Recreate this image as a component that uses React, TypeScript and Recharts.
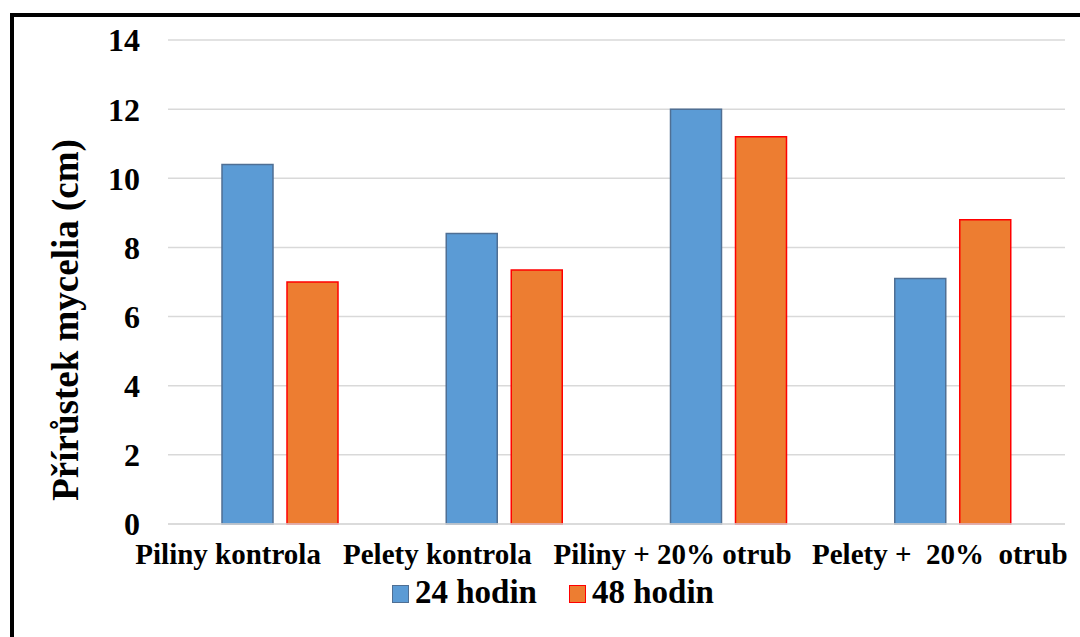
import React from 'react';
import {
  BarChart,
  Bar,
  XAxis,
  YAxis,
  CartesianGrid,
} from 'recharts';

const categories = [
  'Piliny kontrola',
  'Pelety kontrola',
  'Piliny + 20% otrub',
  'Pelety +  20%  otrub',
];
const hodin24 = [10.4, 8.4, 12.0, 7.1];
const hodin48 = [7.0, 7.35, 11.2, 8.8];
const yTicks = [0, 2, 4, 6, 8, 10, 12, 14];

const data = categories.map((name, i) => ({
  name,
  h24: hodin24[i],
  h48: hodin48[i],
}));

const FONT = '"Liberation Serif", "Times New Roman", serif';
// the original labels sit a bit left of their category centres
const labelShift = [-52, -67, -56, -13];

const XTick = (props: any) => {
  const { x, y, payload, index } = props;
  return (
    <text
      x={x + (labelShift[index] ?? 0)}
      y={y}
      dy='0.71em'
      textAnchor='middle'
      fontFamily={FONT}
      fontWeight='bold'
      fontSize={29}
      fill='#000'
      style={{ whiteSpace: 'pre' }}
    >
      {payload.value}
    </text>
  );
};

const YLabel = (props: any) => {
  const { viewBox } = props;
  const cx = viewBox.x + 65;
  const cy = viewBox.y + viewBox.height / 2 + 38;
  return (
    <text
      transform={`translate(${cx}, ${cy}) rotate(-90)`}
      textAnchor='middle'
      dominantBaseline='central'
      fontFamily={FONT}
      fontWeight='bold'
      fontSize={37}
      fill='#000'
    >
      Přírůstek mycelia (cm)
    </text>
  );
};

const legendItems = [
  { label: '24 hodin', fill: '#5B9BD5', stroke: '#4f6f94' },
  { label: '48 hodin', fill: '#ED7D31', stroke: '#FF0000' },
];

const LegendBox = () => (
  <div style={{ display: 'flex', gap: 32, alignItems: 'flex-end' }}>
    {legendItems.map((it) => (
      <div key={it.label} style={{ display: 'flex', alignItems: 'flex-end' }}>
        <span
          style={{
            display: 'inline-block',
            width: 15,
            height: 16,
            background: it.fill,
            border: `1.5px solid ${it.stroke}`,
            marginRight: 6,
            marginBottom: 6,
          }}
        />
        <span
          style={{
            fontFamily: FONT,
            fontWeight: 'bold',
            fontSize: 33,
            lineHeight: '33px',
            color: '#000',
          }}
        >
          {it.label}
        </span>
      </div>
    ))}
  </div>
);

export default function App() {
  return (
    <div
      style={{
        position: 'absolute',
        left: 0,
        top: 0,
        width: 1080,
        height: 637,
        background: '#fff',
        overflow: 'hidden',
      }}
    >
      <div
        style={{
          position: 'absolute',
          left: 10,
          top: 13,
          width: 1200,
          height: 800,
          border: '4px solid #000',
        }}
      />
      <div style={{ position: 'absolute', left: 0, top: 0 }}>
        <BarChart
          width={1080}
          height={637}
          data={data}
          margin={{ top: 40, right: 15, bottom: 83, left: 0 }}
          barGap={14}
          barSize={51}
        >
          <CartesianGrid vertical={false} stroke='#d9d9d9' strokeWidth={1.5} />
          <XAxis
            dataKey='name'
            height={30}
            axisLine={{ stroke: '#d9d9d9', strokeWidth: 1.5 }}
            tickLine={false}
            tickSize={0}
            tickMargin={19}
            tick={<XTick />}
            interval={0}
          />
          <YAxis
            width={168}
            domain={[0, 14]}
            ticks={yTicks}
            axisLine={false}
            tickLine={false}
            tickSize={0}
            tickMargin={28}
            tick={{ fontFamily: FONT, fontWeight: 'bold', fontSize: 32, fill: '#000' }}
            label={<YLabel />}
          />
          <Bar
            dataKey='h24'
            name='24 hodin'
            fill='#5B9BD5'
            stroke='#4f6f94'
            strokeWidth={1.5}
            isAnimationActive={false}
          />
          <Bar
            dataKey='h48'
            name='48 hodin'
            fill='#ED7D31'
            stroke='#FF0000'
            strokeWidth={1.5}
            isAnimationActive={false}
          />
        </BarChart>
      </div>
      <div style={{ position: 'absolute', left: 392, top: 576 }}>
        <LegendBox />
      </div>
    </div>
  );
}
